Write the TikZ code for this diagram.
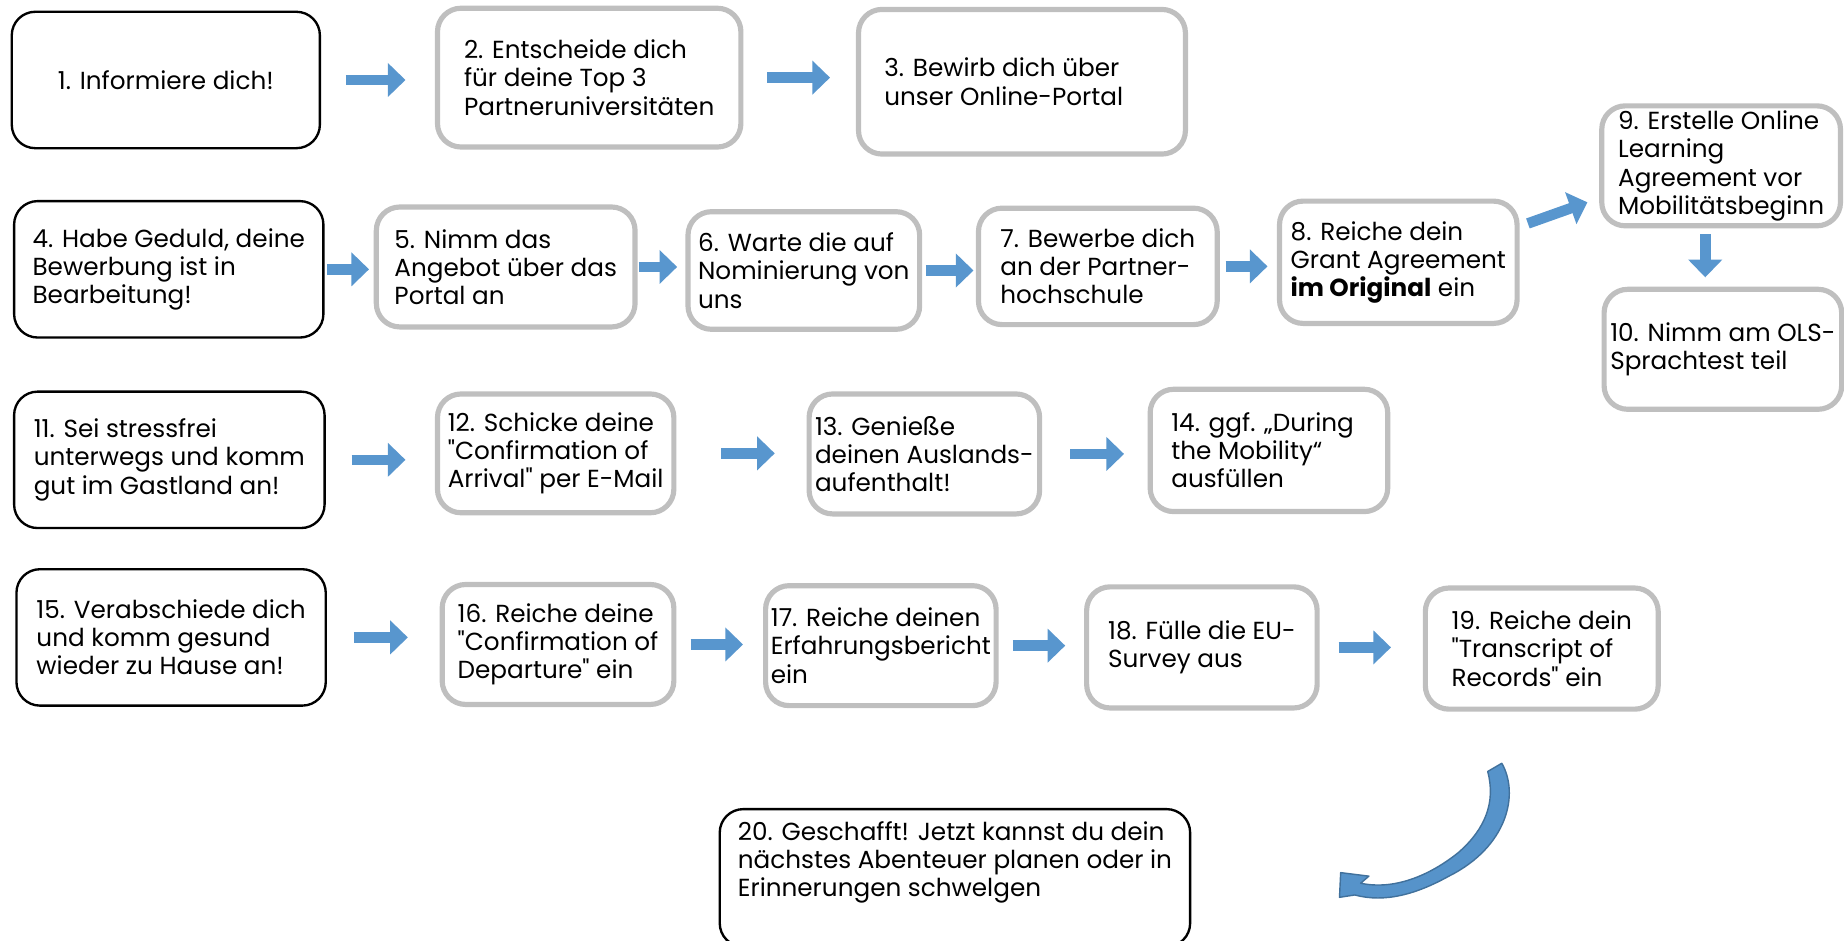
\documentclass[tikz,border=0pt]{standalone}
\usepackage{fontspec}
\setmainfont{Poppins}
\usetikzlibrary{arrows.meta}

\definecolor{pfeil}{HTML}{5B9BD5}
\definecolor{pfeilrand}{HTML}{41719C}
\definecolor{rahmen}{HTML}{BFBFBF}

\begin{document}
\begin{tikzpicture}[x=0.5pt,y=-0.5pt]
\tikzset{BoxStyle/.style = {shape = rectangle,
		rounded corners = 10pt,
		align = left,
		inner sep = 0pt,
		font = \fontsize{10.5}{12}\selectfont},
	Schwarz/.style = {BoxStyle, draw = black, line width = 1pt},
	Grau/.style = {BoxStyle, draw = rahmen, line width = 2.2pt},
	EdgeStyle/.style = {draw = pfeil!88!pfeilrand, line width = 4.5pt,
		-{Triangle[length=7.5pt,width=14pt]}}}
\useasboundingbox (0,0) rectangle (1568,800);

% Zeile 1
\node[Schwarz, minimum width=131pt, minimum height=58pt] (Info) at (141,68) {1. Informiere dich!};
\node[Grau, minimum width=129pt, minimum height=59pt] (Top) at (501,66) {2. Entscheide dich\\für deine Top 3\\Partneruniversitäten};
\node[Grau, minimum width=139pt, minimum height=61.5pt, text width=117pt, align=flush left] (Portal) at (869,69.5) {3. Bewirb dich über\\unser Online-Portal};

% Zeile 2
\node[Schwarz, minimum width=131.5pt, minimum height=58pt] (Geduld) at (143.5,229) {4. Habe Geduld, deine\\Bewerbung ist in\\Bearbeitung!};
\node[Grau, minimum width=110pt, minimum height=51pt] (Angebot) at (430,227) {5. Nimm das\\Angebot über das\\Portal an};
\node[Grau, minimum width=98.5pt, minimum height=50pt] (Nominierung) at (683.5,230) {6. Warte die auf\\Nominierung von\\uns};
\node[Grau, minimum width=101.5pt, minimum height=49.5pt] (Partner) at (933.5,226.5) {7. Bewerbe dich\\an der Partner-\\hochschule};
\node[Grau, minimum width=101pt, minimum height=52pt] (Grant) at (1189,223) {8. Reiche dein\\Grant Agreement\\\textbf{im Original} ein};
\node[Grau, minimum width=101.5pt, minimum height=51pt] (OLA) at (1463.5,141) {9. Erstelle Online\\Learning\\Agreement vor\\Mobilitätsbeginn};
\node[Grau, minimum width=101pt, minimum height=51pt] (OLS) at (1465,297) {10. Nimm am OLS-\\Sprachtest teil};

% Zeile 3
\node[Schwarz, minimum width=132pt, minimum height=58pt] (Anreise) at (144,391) {11. Sei stressfrei\\unterwegs und komm\\gut im Gastland an!};
\node[Grau, minimum width=100.5pt, minimum height=50.5pt] (Arrival) at (472.5,385.5) {12. Schicke deine\\\textquotedbl Confirmation of\\Arrival\textquotedbl{} per E-Mail};
\node[Grau, minimum width=98pt, minimum height=51pt] (Aufenthalt) at (786,386) {13. Genieße\\deinen Auslands-\\aufenthalt!};
\node[Grau, minimum width=101pt, minimum height=52pt, text width=83pt, align=flush left] (During) at (1079,383) {14. ggf. „During\\the Mobility“\\ausfüllen};

% Zeile 4
\node[Schwarz, minimum width=131.5pt, minimum height=58pt] (Abschied) at (145.5,542) {15. Verabschiede dich\\und komm gesund\\wieder zu Hause an!};
\node[Grau, minimum width=98.5pt, minimum height=51pt] (Departure) at (474.5,548) {16. Reiche deine\\\textquotedbl Confirmation of\\Departure\textquotedbl{} ein};
\node[Grau, minimum width=98pt, minimum height=51pt] (Bericht) at (749,549) {17. Reiche deinen\\Erfahrungsbericht\\ein};
\node[Grau, minimum width=98pt, minimum height=51.5pt] (Survey) at (1022,550.5) {18. Fülle die EU-\\Survey aus};
\node[Grau, minimum width=99pt, minimum height=51.5pt] (Transcript) at (1311,551.5) {19. Reiche dein\\\textquotedbl Transcript of\\Records\textquotedbl{} ein};

\node[Schwarz, minimum width=200pt, minimum height=58.5pt, text depth=16pt] (Geschafft) at (812,746.5) {20. Geschafft! Jetzt kannst du dein\\nächstes Abenteuer planen oder in\\Erinnerungen schwelgen};

% Pfeile
\draw[EdgeStyle, shorten <=10.5pt, shorten >=12.5pt] (Info) -- (Info -| Top.west);
\draw[EdgeStyle, shorten <=10pt, shorten >=11pt] (Top) -- (Top -| Portal.west);
\draw[EdgeStyle, shorten <=1pt, shorten >=2pt] (Geduld) -- (Geduld -| Angebot.west);
\draw[EdgeStyle, shorten <=0.5pt, shorten >=3.5pt] (Angebot) -- (Angebot -| Nominierung.west);
\draw[EdgeStyle, shorten <=1.5pt, shorten >=1pt] (Nominierung) -- (Nominierung -| Partner.west);
\draw[EdgeStyle, shorten <=2.5pt, shorten >=4pt] (Partner) -- (Partner -| Grant.west);
\draw[EdgeStyle] ([shift={(3.5pt,16.5pt)}]Grant.east) -- ([shift={(-5pt,-15.5pt)}]OLA.west);
\draw[EdgeStyle, shorten <=2.5pt, shorten >=4pt] ([xshift=-6.75pt]OLA.south) -- ([xshift=-6.75pt]OLA.south |- OLS.north);
\draw[EdgeStyle, shorten <=11pt, shorten >=12.5pt] (Anreise) -- (Anreise -| Arrival.west);
\draw[EdgeStyle, shorten <=19pt, shorten >=13.5pt] (Arrival) -- (Arrival -| Aufenthalt.west);
\draw[EdgeStyle, shorten <=12pt, shorten >=10pt] (Aufenthalt) -- (Aufenthalt -| During.west);
\draw[EdgeStyle, shorten <=11.5pt, shorten >=13.5pt] (Abschied) -- (Abschied -| Departure.west);
\draw[EdgeStyle, shorten <=6pt, shorten >=8.5pt] (Departure) -- (Departure -| Bericht.west);
\draw[EdgeStyle, shorten <=6pt, shorten >=8pt] (Bericht) -- (Bericht -| Survey.west);
\draw[EdgeStyle, shorten <=8pt, shorten >=13.5pt] (Survey) -- (Survey -| Transcript.west);

% gebogener Pfeil
\filldraw[fill=pfeil!80!pfeilrand, draw=pfeilrand, line width=0.6pt, line join=round]
	(1265,656) -- (1277,649) .. controls (1292,675) and (1282,720) .. (1232,745)
	.. controls (1205,760) and (1178,768) .. (1152,761) -- (1139,763) -- (1140,742)
	-- (1164,745) -- (1157,751) .. controls (1185,757) and (1215,745) .. (1240,725)
	.. controls (1263,705) and (1272,682) .. cycle;
\end{tikzpicture}
\end{document}
